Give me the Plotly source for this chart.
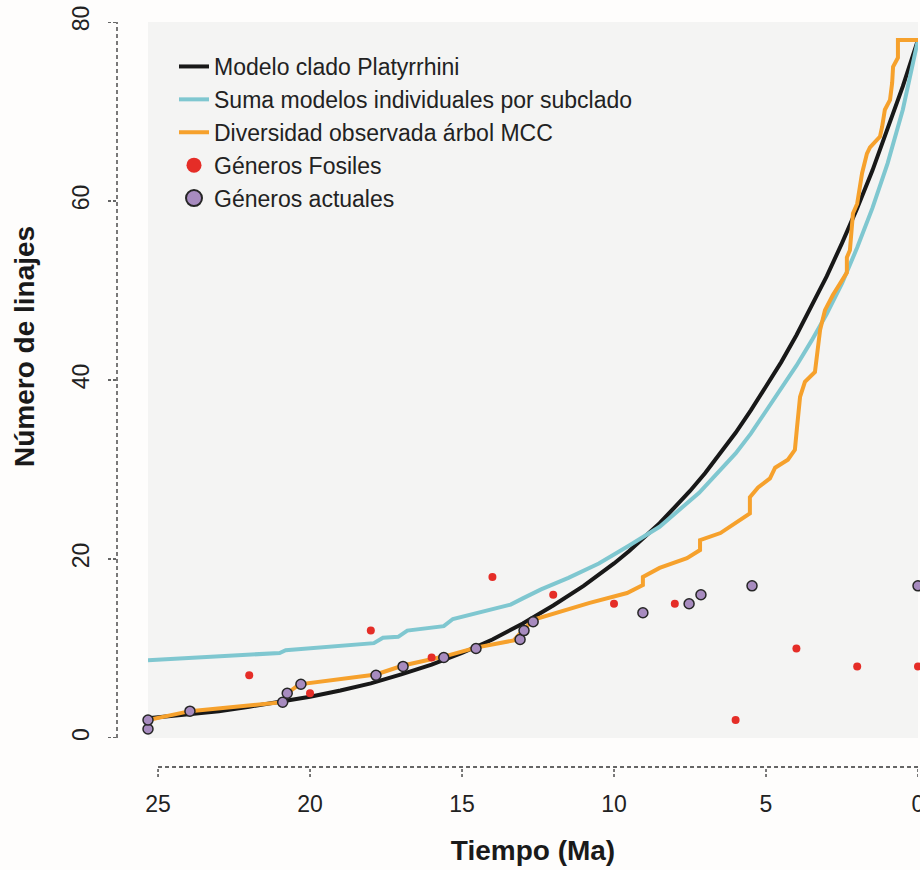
import plotly.graph_objects as go

# ---------------- data ----------------
t_model = [25.33, 24, 23, 22, 21, 20, 19, 18, 17, 16, 15, 14, 13, 12, 11, 10, 9.5, 9, 8.5, 8, 7.5, 7, 6.5, 6,
           5.5, 5, 4.5, 4, 3.5, 3, 2.5, 2, 1.5, 1, 0.5, 0]
n_model = [2.2, 2.6, 3.0, 3.5, 4.0, 4.6, 5.3, 6.1, 7.1, 8.2, 9.5, 11.0, 12.8, 14.8, 17.0, 19.5, 20.9, 22.4, 24.0, 25.8,
           27.6, 29.6, 31.8, 34.1, 36.6, 39.2, 42.0, 45.0, 48.2, 51.6, 55.3, 59.2, 63.4, 68.0, 72.8, 78.0]

t_sum = [25.33, 21.0, 20.8, 20.1, 17.9, 17.6, 17.1, 16.8, 15.6, 15.3, 13.4, 13.0, 12.4, 11.5, 10.5, 9.5, 8.5, 7.2,
         6.5, 6.0, 5.5, 5.0, 4.5, 4.0, 3.5, 3.0, 2.5, 2.0, 1.5, 1.0, 0.5, 0]
n_sum = [8.7, 9.5, 9.8, 10.0, 10.6, 11.2, 11.3, 12.0, 12.5, 13.3, 14.9, 15.6, 16.6, 17.9, 19.5, 21.5, 23.6, 27.4,
         29.9, 31.8, 34.0, 36.5, 39.0, 41.6, 44.4, 47.4, 50.8, 54.8, 59.2, 64.2, 70.2, 78.0]

t_obs = [25.33, 23.95, 20.9, 20.75, 20.35, 17.83, 16.94, 15.6, 14.54, 13.3, 13.0, 12.66, 10.8, 9.57, 9.05, 9.05, 8.5, 7.6,
         7.17, 7.17, 6.5, 5.53, 5.53, 5.26, 4.87, 4.7, 4.28, 4.05, 3.98, 3.88, 3.72, 3.39, 3.22, 3.06, 2.8, 2.47,
         2.34, 2.34, 2.24, 2.14, 2.0, 1.84, 1.68, 1.58, 1.25, 1.18, 1.09, 0.92, 0.85, 0.82, 0.66, 0.66, 0.0]
n_obs = [2.0, 3.0, 4.0, 5.0, 6.0, 7.1, 8.1, 9.1, 10.1, 10.9, 12.0, 13.2, 15.1, 16.2, 17.1, 18.0, 19.0, 20.1,
         21.0, 22.1, 22.9, 25.1, 26.9, 28.0, 29.0, 30.2, 31.1, 32.2, 34.7, 38.1, 39.8, 40.9, 45.6, 47.8, 49.5, 51.2,
         52.0, 53.7, 54.5, 58.6, 59.7, 63.1, 65.3, 66.0, 67.2, 68.3, 70.2, 71.3, 73.2, 75.0, 76.0, 78.0, 78.0]

t_fossil = [22, 20, 18, 16, 14, 12, 10, 8, 6, 4, 2, 0]
n_fossil = [7, 5, 12, 9, 18, 16, 15, 15, 2, 10, 8, 8]

t_extant = [25.33, 25.33, 23.95, 20.9, 20.75, 20.3, 17.83, 16.94, 15.6, 14.54, 13.09, 12.96, 12.66, 9.05, 7.53, 7.14, 5.46, 0.0]
n_extant = [1, 2, 3, 4, 5, 6, 7, 8, 9, 10, 11, 12, 13, 14, 15, 16, 17, 17]

x_ticks = [25, 20, 15, 10, 5, 0]
y_ticks = [0, 20, 40, 60, 80]

names = ["Modelo clado Platyrrhini", "Suma modelos individuales por subclado",
         "Diversidad observada árbol MCC", "Géneros Fosiles", "Géneros actuales"]

# ---------------- style ----------------
C_BLACK = "#181818"
C_CYAN = "#7fc7d0"
C_ORANGE = "#f6a12c"
C_RED = "#e52d27"
C_PURPLE = "#a78bbf"
C_EDGE = "#262626"
LW = 4
NARROW = "Liberation Sans Narrow, Arial Narrow, Liberation Sans, Arial, sans-serif"
SANS = "Liberation Sans, Arial, Helvetica, sans-serif"

X_RANGE = [25.33, 0]
Y_RANGE = [0, 80]

fig = go.Figure()
fig.add_trace(go.Scatter(x=t_model, y=n_model, mode="lines", name=names[0],
                         line=dict(color=C_BLACK, width=LW)))
fig.add_trace(go.Scatter(x=t_sum, y=n_sum, mode="lines", name=names[1],
                         line=dict(color=C_CYAN, width=LW)))
fig.add_trace(go.Scatter(x=t_obs, y=n_obs, mode="lines", name=names[2],
                         line=dict(color=C_ORANGE, width=LW)))
fig.add_trace(go.Scatter(x=t_fossil, y=n_fossil, mode="markers", showlegend=False,
                         marker=dict(color=C_RED, size=8, line=dict(width=0)), cliponaxis=False))
fig.add_trace(go.Scatter(x=t_extant, y=n_extant, mode="markers", showlegend=False,
                         marker=dict(color=C_PURPLE, size=10, line=dict(color=C_EDGE, width=1.5)),
                         cliponaxis=False))
# legend entries for marker series (larger symbols in legend)
fig.add_trace(go.Scatter(x=[None], y=[None], mode="markers", name=names[3],
                         marker=dict(color=C_RED, size=15, line=dict(width=0))))
fig.add_trace(go.Scatter(x=[None], y=[None], mode="markers", name=names[4],
                         marker=dict(color=C_PURPLE, size=16, line=dict(color=C_EDGE, width=2))))

# plot area geometry (pixels)
L, R, T, B = 148, 2, 22, 132
W, H = 920, 870
pw = W - L - R
ph = H - T - B

shapes = []
dash = "4px,3px"
axcol = "#333333"
# y axis (offset dashed line + ticks)
yx = -31 / pw
ytick = -40 / pw
shapes.append(dict(type="line", xref="paper", yref="y", x0=yx, x1=yx, y0=y_ticks[0], y1=y_ticks[-1],
                   line=dict(color=axcol, width=1.3, dash=dash)))
for v in y_ticks:
    shapes.append(dict(type="line", xref="paper", yref="y", x0=ytick, x1=yx, y0=v, y1=v,
                       line=dict(color=axcol, width=1.3, dash="3px,2px")))
# x axis
xy = -29 / ph
xtick = -39 / ph
shapes.append(dict(type="line", xref="x", yref="paper", x0=x_ticks[0], x1=x_ticks[-1], y0=xy, y1=xy,
                   line=dict(color=axcol, width=1.3, dash=dash)))
for v in x_ticks:
    shapes.append(dict(type="line", xref="x", yref="paper", x0=v, x1=v, y0=xtick, y1=xy,
                       line=dict(color=axcol, width=1.3, dash="3px,2px")))

fig.update_layout(
    width=W, height=H,
    margin=dict(l=L, r=R, t=T, b=B, pad=0, autoexpand=False),
    paper_bgcolor="#fefdfc",
    plot_bgcolor="#f4f4f3",
    showlegend=True,
    legend=dict(x=(174 - L) / pw, y=(H - B - 45) / ph, xanchor="left", yanchor="top",
                bgcolor="rgba(0,0,0,0)", font=dict(family=NARROW, size=23, color="#222222"),
                traceorder="normal", itemsizing="trace"),
    shapes=shapes,
    annotations=[dict(text="<b>Número de linajes</b>", xref="paper", yref="paper",
                      x=(24 - L) / pw, y=(H - B - 347) / ph, xanchor="center", yanchor="middle",
                      textangle=-90, showarrow=False,
                      font=dict(family=SANS, size=28, color="#1a1a1a"))],
)
fig.update_xaxes(range=X_RANGE, tickvals=x_ticks, ticktext=[str(v) for v in x_ticks],
                 showgrid=False, zeroline=False, showline=False, ticks="", ticklabeloverflow="allow",
                 automargin=False,
                 tickfont=dict(family=SANS, size=23, color="#222222"), ticklabelstandoff=50,
                 title=dict(text="<b>Tiempo (Ma)</b>", font=dict(family=SANS, size=28, color="#1a1a1a"),
                            standoff=24))
fig.update_yaxes(range=Y_RANGE, tickvals=y_ticks, ticktext=[str(v) for v in y_ticks],
                 showgrid=False, zeroline=False, showline=False, ticks="", tickangle=-90, automargin=False,
                 tickfont=dict(family=SANS, size=23, color="#222222"), ticklabelstandoff=53)

fig.write_html("out.html")
